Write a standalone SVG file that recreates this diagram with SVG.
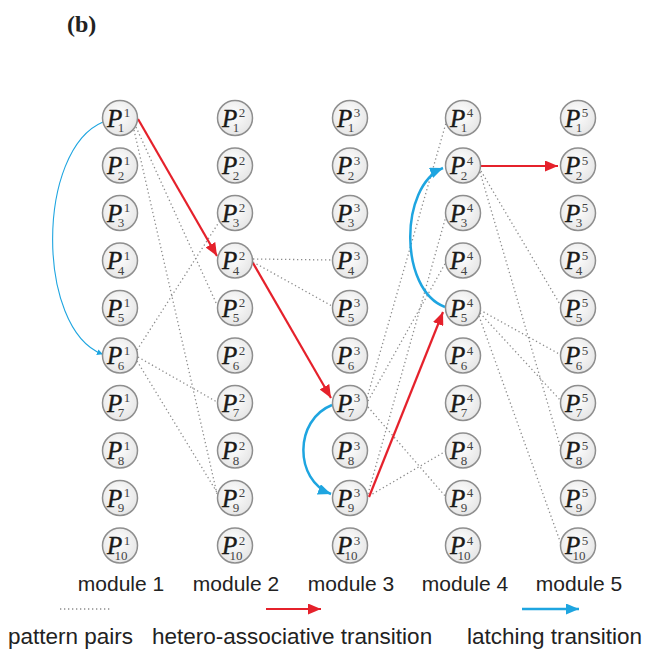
<svg xmlns="http://www.w3.org/2000/svg" width="653" height="651" viewBox="0 0 653 651">
<style>
.nd circle{fill:url(#g);stroke:#8e8e8e;stroke-width:1.5}
.P{font-family:"Liberation Serif","Times New Roman",serif;font-style:italic;font-size:25px;fill:#1a1a1a;stroke:#1a1a1a;stroke-width:0.45}
.s{font-family:"Liberation Serif","Times New Roman",serif;font-size:13px;fill:#444;text-anchor:middle}
.dot{fill:none;stroke:#8c8c8c;stroke-width:1.3;stroke-dasharray:1.3 2.7}
.red{fill:none;stroke:#e5212b;stroke-width:2.2}
.blue{fill:none;stroke:#1ea5e0;stroke-width:2.5}
.lab{font-family:"Liberation Sans",Arial,sans-serif;font-size:21px;fill:#222;text-anchor:middle}
.leg{font-family:"Liberation Sans",Arial,sans-serif;font-size:22.5px;fill:#222}
</style>
<defs>
<radialGradient id="g" cx="0.45" cy="0.4" r="0.6"><stop offset="0" stop-color="#ffffff"/><stop offset="1" stop-color="#e6e6e6"/></radialGradient>
<marker id="ar" markerUnits="userSpaceOnUse" markerWidth="14" markerHeight="11" refX="13" refY="5.5" orient="auto"><path d="M0,0 L13,5.5 L0,11 z" fill="#e5212b"/></marker>
<marker id="ab" markerUnits="userSpaceOnUse" markerWidth="14" markerHeight="11" refX="13" refY="5.5" orient="auto"><path d="M0,0 L13,5.5 L0,11 z" fill="#1ea5e0"/></marker>
<marker id="abs" markerUnits="userSpaceOnUse" markerWidth="6" markerHeight="6" refX="5" refY="3" orient="auto"><path d="M0,0 L6,3 L0,6 z" fill="#1ea5e0"/></marker>
</defs>
<rect width="653" height="651" fill="#fff"/>
<text x="67" y="32" font-family="Liberation Serif,Times New Roman,serif" font-weight="bold" font-size="24" fill="#222">(b)</text>

<g id="connectors">
<path class="dot" d="M136,127 L217,305"/>
<path class="dot" d="M134,130 L217,494"/>
<path class="dot" d="M137,350 L221,219"/>
<path class="dot" d="M138,357 L217,402"/>
<path class="dot" d="M137,361 L218,494"/>
<path class="dot" d="M253,259 L332,260"/>
<path class="dot" d="M253,262 L332,306"/>
<path class="dot" d="M367,398 L446,123"/>
<path class="dot" d="M368,401 L446,262"/>
<path class="dot" d="M368,494 L446,216"/>
<path class="dot" d="M368,407 L446,497"/>
<path class="dot" d="M369,496 L446,451"/>
<path class="dot" d="M481,171 L561,306"/>
<path class="dot" d="M480,172 L561,449"/>
<path class="dot" d="M480,310 L561,355"/>
<path class="dot" d="M480,313 L561,401"/>
<path class="dot" d="M479,316 L561,544"/>
<path class="red" d="M138,119 L217,256" marker-end="url(#ar)"/>
<path class="red" d="M253,263 L331,398" marker-end="url(#ar)"/>
<path class="red" d="M369,497 L443,312" marker-end="url(#ar)"/>
<path class="red" d="M481,166 L558,166" marker-end="url(#ar)"/>
<path fill="none" stroke="#1ea5e0" stroke-width="1.1" d="M103,122 C36,150 36,328 102,354" marker-end="url(#abs)"/>
<path class="blue" d="M332,405 C294,420 294,480 331,494" marker-end="url(#ab)"/>
<path class="blue" d="M445,307 C399,290 399,186 443,168" marker-end="url(#ab)"/>
</g>

<g id="m1">
<g id="n1_1" class="nd"><circle cx="120" cy="118" r="17.5"/><text class="P" x="107" y="126.5">P</text><text class="s" x="127" y="117">1</text><text class="s" x="121" y="132">1</text></g>
<g id="n1_2" class="nd"><circle cx="120" cy="165.5" r="17.5"/><text class="P" x="107" y="174">P</text><text class="s" x="127" y="164.5">1</text><text class="s" x="121" y="179.5">2</text></g>
<g id="n1_3" class="nd"><circle cx="120" cy="213" r="17.5"/><text class="P" x="107" y="221.5">P</text><text class="s" x="127" y="212">1</text><text class="s" x="121" y="227">3</text></g>
<g id="n1_4" class="nd"><circle cx="120" cy="260.5" r="17.5"/><text class="P" x="107" y="269">P</text><text class="s" x="127" y="259.5">1</text><text class="s" x="121" y="274.5">4</text></g>
<g id="n1_5" class="nd"><circle cx="120" cy="308" r="17.5"/><text class="P" x="107" y="316.5">P</text><text class="s" x="127" y="307">1</text><text class="s" x="121" y="322">5</text></g>
<g id="n1_6" class="nd"><circle cx="120" cy="355.5" r="17.5"/><text class="P" x="107" y="364">P</text><text class="s" x="127" y="354.5">1</text><text class="s" x="121" y="369.5">6</text></g>
<g id="n1_7" class="nd"><circle cx="120" cy="403" r="17.5"/><text class="P" x="107" y="411.5">P</text><text class="s" x="127" y="402">1</text><text class="s" x="121" y="417">7</text></g>
<g id="n1_8" class="nd"><circle cx="120" cy="450.5" r="17.5"/><text class="P" x="107" y="459">P</text><text class="s" x="127" y="449.5">1</text><text class="s" x="121" y="464.5">8</text></g>
<g id="n1_9" class="nd"><circle cx="120" cy="498" r="17.5"/><text class="P" x="107" y="506.5">P</text><text class="s" x="127" y="497">1</text><text class="s" x="121" y="512">9</text></g>
<g id="n1_10" class="nd"><circle cx="120" cy="545.5" r="17.5"/><text class="P" x="107" y="554">P</text><text class="s" x="127" y="544.5">1</text><text class="s" x="121" y="559.5">10</text></g>
</g>

<g id="m2">
<g id="n2_1" class="nd"><circle cx="235" cy="118" r="17.5"/><text class="P" x="222" y="126.5">P</text><text class="s" x="242" y="117">2</text><text class="s" x="236" y="132">1</text></g>
<g id="n2_2" class="nd"><circle cx="235" cy="165.5" r="17.5"/><text class="P" x="222" y="174">P</text><text class="s" x="242" y="164.5">2</text><text class="s" x="236" y="179.5">2</text></g>
<g id="n2_3" class="nd"><circle cx="235" cy="213" r="17.5"/><text class="P" x="222" y="221.5">P</text><text class="s" x="242" y="212">2</text><text class="s" x="236" y="227">3</text></g>
<g id="n2_4" class="nd"><circle cx="235" cy="260.5" r="17.5"/><text class="P" x="222" y="269">P</text><text class="s" x="242" y="259.5">2</text><text class="s" x="236" y="274.5">4</text></g>
<g id="n2_5" class="nd"><circle cx="235" cy="308" r="17.5"/><text class="P" x="222" y="316.5">P</text><text class="s" x="242" y="307">2</text><text class="s" x="236" y="322">5</text></g>
<g id="n2_6" class="nd"><circle cx="235" cy="355.5" r="17.5"/><text class="P" x="222" y="364">P</text><text class="s" x="242" y="354.5">2</text><text class="s" x="236" y="369.5">6</text></g>
<g id="n2_7" class="nd"><circle cx="235" cy="403" r="17.5"/><text class="P" x="222" y="411.5">P</text><text class="s" x="242" y="402">2</text><text class="s" x="236" y="417">7</text></g>
<g id="n2_8" class="nd"><circle cx="235" cy="450.5" r="17.5"/><text class="P" x="222" y="459">P</text><text class="s" x="242" y="449.5">2</text><text class="s" x="236" y="464.5">8</text></g>
<g id="n2_9" class="nd"><circle cx="235" cy="498" r="17.5"/><text class="P" x="222" y="506.5">P</text><text class="s" x="242" y="497">2</text><text class="s" x="236" y="512">9</text></g>
<g id="n2_10" class="nd"><circle cx="235" cy="545.5" r="17.5"/><text class="P" x="222" y="554">P</text><text class="s" x="242" y="544.5">2</text><text class="s" x="236" y="559.5">10</text></g>
</g>

<g id="m3">
<g id="n3_1" class="nd"><circle cx="350" cy="118" r="17.5"/><text class="P" x="337" y="126.5">P</text><text class="s" x="357" y="117">3</text><text class="s" x="351" y="132">1</text></g>
<g id="n3_2" class="nd"><circle cx="350" cy="165.5" r="17.5"/><text class="P" x="337" y="174">P</text><text class="s" x="357" y="164.5">3</text><text class="s" x="351" y="179.5">2</text></g>
<g id="n3_3" class="nd"><circle cx="350" cy="213" r="17.5"/><text class="P" x="337" y="221.5">P</text><text class="s" x="357" y="212">3</text><text class="s" x="351" y="227">3</text></g>
<g id="n3_4" class="nd"><circle cx="350" cy="260.5" r="17.5"/><text class="P" x="337" y="269">P</text><text class="s" x="357" y="259.5">3</text><text class="s" x="351" y="274.5">4</text></g>
<g id="n3_5" class="nd"><circle cx="350" cy="308" r="17.5"/><text class="P" x="337" y="316.5">P</text><text class="s" x="357" y="307">3</text><text class="s" x="351" y="322">5</text></g>
<g id="n3_6" class="nd"><circle cx="350" cy="355.5" r="17.5"/><text class="P" x="337" y="364">P</text><text class="s" x="357" y="354.5">3</text><text class="s" x="351" y="369.5">6</text></g>
<g id="n3_7" class="nd"><circle cx="350" cy="403" r="17.5"/><text class="P" x="337" y="411.5">P</text><text class="s" x="357" y="402">3</text><text class="s" x="351" y="417">7</text></g>
<g id="n3_8" class="nd"><circle cx="350" cy="450.5" r="17.5"/><text class="P" x="337" y="459">P</text><text class="s" x="357" y="449.5">3</text><text class="s" x="351" y="464.5">8</text></g>
<g id="n3_9" class="nd"><circle cx="350" cy="498" r="17.5"/><text class="P" x="337" y="506.5">P</text><text class="s" x="357" y="497">3</text><text class="s" x="351" y="512">9</text></g>
<g id="n3_10" class="nd"><circle cx="350" cy="545.5" r="17.5"/><text class="P" x="337" y="554">P</text><text class="s" x="357" y="544.5">3</text><text class="s" x="351" y="559.5">10</text></g>
</g>

<g id="m4">
<g id="n4_1" class="nd"><circle cx="463" cy="118" r="17.5"/><text class="P" x="450" y="126.5">P</text><text class="s" x="470" y="117">4</text><text class="s" x="464" y="132">1</text></g>
<g id="n4_2" class="nd"><circle cx="463" cy="165.5" r="17.5"/><text class="P" x="450" y="174">P</text><text class="s" x="470" y="164.5">4</text><text class="s" x="464" y="179.5">2</text></g>
<g id="n4_3" class="nd"><circle cx="463" cy="213" r="17.5"/><text class="P" x="450" y="221.5">P</text><text class="s" x="470" y="212">4</text><text class="s" x="464" y="227">3</text></g>
<g id="n4_4" class="nd"><circle cx="463" cy="260.5" r="17.5"/><text class="P" x="450" y="269">P</text><text class="s" x="470" y="259.5">4</text><text class="s" x="464" y="274.5">4</text></g>
<g id="n4_5" class="nd"><circle cx="463" cy="308" r="17.5"/><text class="P" x="450" y="316.5">P</text><text class="s" x="470" y="307">4</text><text class="s" x="464" y="322">5</text></g>
<g id="n4_6" class="nd"><circle cx="463" cy="355.5" r="17.5"/><text class="P" x="450" y="364">P</text><text class="s" x="470" y="354.5">4</text><text class="s" x="464" y="369.5">6</text></g>
<g id="n4_7" class="nd"><circle cx="463" cy="403" r="17.5"/><text class="P" x="450" y="411.5">P</text><text class="s" x="470" y="402">4</text><text class="s" x="464" y="417">7</text></g>
<g id="n4_8" class="nd"><circle cx="463" cy="450.5" r="17.5"/><text class="P" x="450" y="459">P</text><text class="s" x="470" y="449.5">4</text><text class="s" x="464" y="464.5">8</text></g>
<g id="n4_9" class="nd"><circle cx="463" cy="498" r="17.5"/><text class="P" x="450" y="506.5">P</text><text class="s" x="470" y="497">4</text><text class="s" x="464" y="512">9</text></g>
<g id="n4_10" class="nd"><circle cx="463" cy="545.5" r="17.5"/><text class="P" x="450" y="554">P</text><text class="s" x="470" y="544.5">4</text><text class="s" x="464" y="559.5">10</text></g>
</g>

<g id="m5">
<g id="n5_1" class="nd"><circle cx="578" cy="118" r="17.5"/><text class="P" x="565" y="126.5">P</text><text class="s" x="585" y="117">5</text><text class="s" x="579" y="132">1</text></g>
<g id="n5_2" class="nd"><circle cx="578" cy="165.5" r="17.5"/><text class="P" x="565" y="174">P</text><text class="s" x="585" y="164.5">5</text><text class="s" x="579" y="179.5">2</text></g>
<g id="n5_3" class="nd"><circle cx="578" cy="213" r="17.5"/><text class="P" x="565" y="221.5">P</text><text class="s" x="585" y="212">5</text><text class="s" x="579" y="227">3</text></g>
<g id="n5_4" class="nd"><circle cx="578" cy="260.5" r="17.5"/><text class="P" x="565" y="269">P</text><text class="s" x="585" y="259.5">5</text><text class="s" x="579" y="274.5">4</text></g>
<g id="n5_5" class="nd"><circle cx="578" cy="308" r="17.5"/><text class="P" x="565" y="316.5">P</text><text class="s" x="585" y="307">5</text><text class="s" x="579" y="322">5</text></g>
<g id="n5_6" class="nd"><circle cx="578" cy="355.5" r="17.5"/><text class="P" x="565" y="364">P</text><text class="s" x="585" y="354.5">5</text><text class="s" x="579" y="369.5">6</text></g>
<g id="n5_7" class="nd"><circle cx="578" cy="403" r="17.5"/><text class="P" x="565" y="411.5">P</text><text class="s" x="585" y="402">5</text><text class="s" x="579" y="417">7</text></g>
<g id="n5_8" class="nd"><circle cx="578" cy="450.5" r="17.5"/><text class="P" x="565" y="459">P</text><text class="s" x="585" y="449.5">5</text><text class="s" x="579" y="464.5">8</text></g>
<g id="n5_9" class="nd"><circle cx="578" cy="498" r="17.5"/><text class="P" x="565" y="506.5">P</text><text class="s" x="585" y="497">5</text><text class="s" x="579" y="512">9</text></g>
<g id="n5_10" class="nd"><circle cx="578" cy="545.5" r="17.5"/><text class="P" x="565" y="554">P</text><text class="s" x="585" y="544.5">5</text><text class="s" x="579" y="559.5">10</text></g>
</g>

<g id="labels">
<text class="lab" x="121" y="591">module 1</text>
<text class="lab" x="236" y="591">module 2</text>
<text class="lab" x="351" y="591">module 3</text>
<text class="lab" x="465" y="591">module 4</text>
<text class="lab" x="579" y="591">module 5</text>
</g>

<g id="legend">
<path class="dot" d="M60,609 L111,609"/>
<path class="red" d="M266,609 L321,609" marker-end="url(#ar)"/>
<path class="blue" d="M522,609 L579,609" marker-end="url(#ab)"/>
<text class="leg" x="8" y="644">pattern pairs</text>
<text class="leg" x="152" y="644">hetero-associative transition</text>
<text class="leg" x="467" y="644">latching transition</text>
</g>
</svg>
